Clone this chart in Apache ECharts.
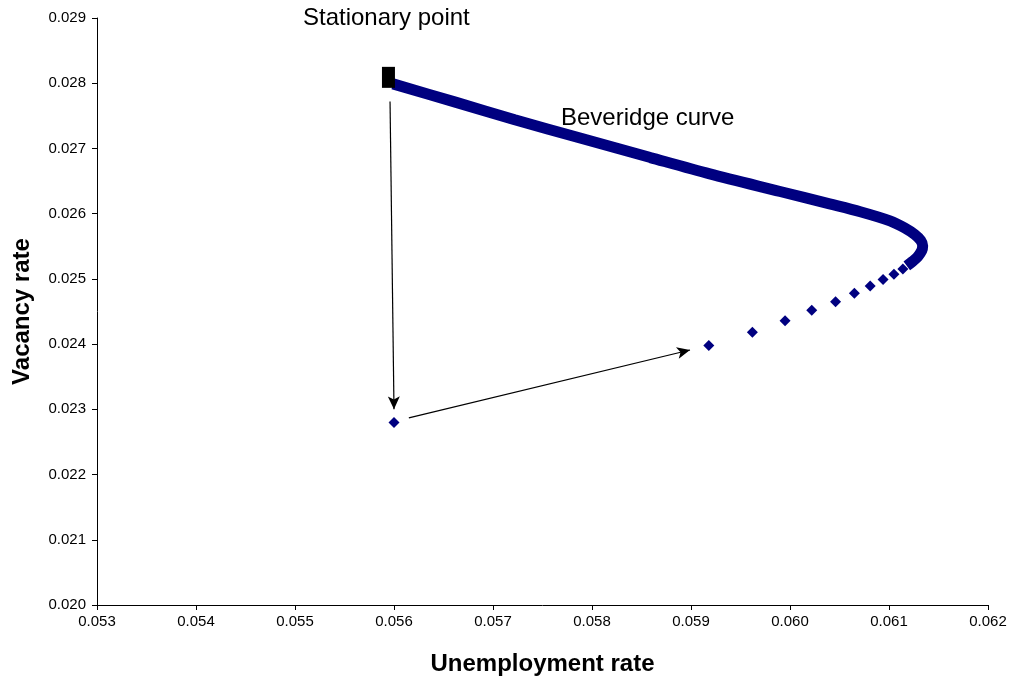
<!DOCTYPE html>
<html>
<head>
<meta charset="utf-8">
<script src="https://cdn.jsdelivr.net/npm/echarts@6/dist/echarts.min.js"></script>
<style>html,body{margin:0;padding:0;background:#fff}#c{width:1011px;height:681px}</style>
</head>
<body>
<div id="c"></div>
<script>
// Dense part of the Beveridge curve, from the bend back to the stationary point
var curveU = [0.06118, 0.06124, 0.06129, 0.06133, 0.06134, 0.06132, 0.06126, 0.06116, 0.06101, 0.06071, 0.06040, 0.05990, 0.05919, 0.05859, 0.05788, 0.05722, 0.05662, 0.05599];
var curveV = [0.02520, 0.02527, 0.02534, 0.02543, 0.02551, 0.02559, 0.02568, 0.02578, 0.02589, 0.02603, 0.02615, 0.02634, 0.02661, 0.02686, 0.02716, 0.02744, 0.02771, 0.02799];
// Sparse simulated points
var pointU = [0.05600, 0.05918, 0.05962, 0.05995, 0.06022, 0.06046, 0.06065, 0.06081, 0.06094, 0.06105, 0.06114];
var pointV = [0.02280, 0.02398, 0.02418, 0.02436, 0.02452, 0.02465, 0.02478, 0.02489, 0.02499, 0.02507, 0.02515];
// Stationary point
var statU = [0.055944];
var statV = [0.02809];
// Arrows [fromU, fromV, toU, toV]
var arrows = [[0.05596, 0.02772, 0.05600, 0.02300], [0.05615, 0.02287, 0.05899, 0.02391]];
var xTicks = {min: 0.053, max: 0.062, interval: 0.001};
var yTicks = {min: 0.020, max: 0.029, interval: 0.001};

function zip(a, b) { return a.map(function (v, i) { return [v, b[i]]; }); }
var FONT = '"Liberation Sans", Arial, sans-serif';
var chart = echarts.init(document.getElementById('c'), null, {renderer: 'canvas'});
chart.setOption({
  animation: false,
  backgroundColor: '#ffffff',
  grid: {left: 97, right: 23, top: 18, bottom: 75, containLabel: false},
  xAxis: {
    type: 'value', min: xTicks.min, max: xTicks.max, interval: xTicks.interval,
    name: 'Unemployment rate', nameLocation: 'middle', nameGap: 47,
    nameTextStyle: {fontFamily: FONT, fontSize: 24, fontWeight: 'bold', color: '#000'},
    axisLine: {show: true, onZero: false, lineStyle: {color: '#000', width: 1}},
    axisTick: {show: true, inside: false, length: 5, lineStyle: {color: '#000'}},
    axisLabel: {fontFamily: FONT, fontSize: 15, color: '#000', margin: 9, formatter: function (v) { return v.toFixed(3); }},
    splitLine: {show: false}
  },
  yAxis: {
    type: 'value', min: yTicks.min, max: yTicks.max, interval: yTicks.interval,
    name: 'Vacancy rate', nameLocation: 'middle', nameGap: 63, nameRotate: 90,
    nameTextStyle: {fontFamily: FONT, fontSize: 24, fontWeight: 'bold', color: '#000'},
    axisLine: {show: true, onZero: false, lineStyle: {color: '#000', width: 1}},
    axisTick: {show: true, inside: false, length: 5, lineStyle: {color: '#000'}},
    axisLabel: {fontFamily: FONT, fontSize: 15, color: '#000', margin: 11, formatter: function (v) { return v.toFixed(3); }},
    splitLine: {show: false}
  },
  series: [
    {
      type: 'line', data: zip(curveU, curveV), smooth: 0.3, symbol: 'none',
      lineStyle: {color: '#000080', width: 11, cap: 'butt', opacity: 1}, z: 2
    },
    {
      type: 'scatter', data: zip(pointU, pointV), symbol: 'diamond', symbolSize: 11,
      itemStyle: {color: '#000080', opacity: 1}, z: 3
    },
    {
      type: 'scatter', data: zip(statU, statV), symbol: 'rect', symbolSize: [13, 21],
      itemStyle: {color: '#000000', opacity: 1}, z: 4,
      markLine: {
        silent: true, symbol: ['none', 'arrow'], symbolSize: [9, 13],
        label: {show: false},
        lineStyle: {color: '#000', width: 1.2, type: 'solid', opacity: 1},
        data: arrows.map(function (a) { return [{coord: [a[0], a[1]]}, {coord: [a[2], a[3]]}]; })
      }
    }
  ],
  graphic: [
    {type: 'text', left: 303, top: 6, style: {text: 'Stationary point', font: '24px ' + FONT, fill: '#000'}},
    {type: 'text', left: 561, top: 106, style: {text: 'Beveridge curve', font: '24px ' + FONT, fill: '#000'}}
  ]
});
</script>
</body>
</html>
